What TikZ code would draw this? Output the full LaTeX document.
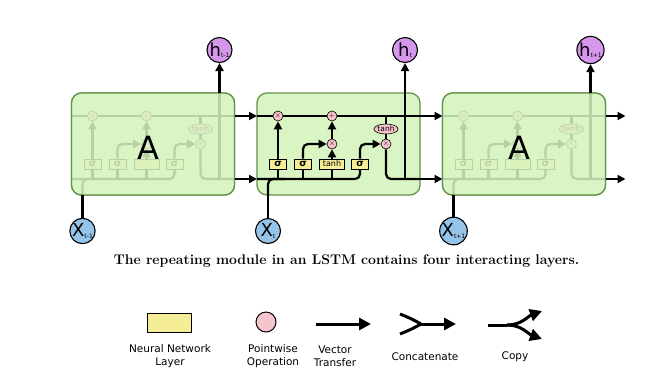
\documentclass[tikz,border=0pt]{standalone}
\usepackage{fontspec}
\usetikzlibrary{arrows.meta,shapes.geometric}
\newfontfamily\lbl{DejaVu Sans}

\definecolor{cellfill}{RGB}{217,245,196}
\definecolor{cellborder}{RGB}{100,145,75}
\definecolor{pwpink}{RGB}{246,196,204}
\definecolor{nnyellow}{RGB}{245,238,150}
\definecolor{hpurple}{RGB}{213,150,235}
\definecolor{xblue}{RGB}{150,195,232}

\tikzset{
  cellbox/.style={draw=cellborder, fill=cellfill, line width=1.3pt, rounded corners=10pt},
  flow/.style={line width=2.2pt, rounded corners=5pt},
  arr/.style={flow, -{Triangle[length=8pt,width=8pt]}},
  bigarr/.style={line width=3pt, -{Triangle[length=12pt,width=12pt]}},
  pw/.style={circle, draw=black, fill=pwpink, line width=0.6pt, inner sep=0pt,
    minimum size=10pt, font=\lbl\fontsize{7}{7}\selectfont},
  pwtanh/.style={ellipse, draw=black, fill=pwpink, line width=0.6pt, inner sep=0pt,
    minimum width=23pt, minimum height=10pt, font=\lbl\fontsize{7.5}{7.5}\selectfont},
  nn/.style={rectangle, draw=black, fill=nnyellow, line width=0.6pt, inner sep=0pt,
    minimum width=17pt, minimum height=10pt, font=\lbl\fontsize{8}{8}\selectfont},
  hnode/.style={circle, draw=black, fill=hpurple, line width=1.1pt, inner sep=0pt,
    minimum size=25pt},
  xnode/.style={circle, draw=black, fill=xblue, line width=1.1pt, inner sep=0pt,
    minimum size=25pt},
  keytext/.style={font=\lbl\fontsize{10.5}{13}\selectfont, align=center},
}

% labels inside the h and x circles
\newcommand{\circlabel}[2]{{\lbl\fontsize{18}{18}\selectfont #1}\raisebox{-1.5pt}{\lbl\fontsize{6}{6}\selectfont #2}}
\newcommand{\sig}{{\lbl\bfseries\fontsize{9.5}{9.5}\selectfont σ}}

% the inside of one LSTM cell, drawn at the position of the middle cell;
% #2 is the label of the tanh layer, #3 the sign of the input gate product
\newcommand{\lstmcell}[3]{%
  \coordinate (#1cin) at (257,116);
  \coordinate (#1cout) at (420,116);
  \coordinate (#1hin) at (257,179);
  \coordinate (#1hout) at (420,179);
  \coordinate (#1xin) at (268,195);
  \coordinate (#1xj) at (285,179);
  \coordinate (#1htop) at (405,93);
  \coordinate (#1hj) at (405,179);
  \coordinate (#1tap) at (386,116);
  \node[pw] (#1f) at (278,116) {$\times$};
  \node[pw] (#1p) at (332,116) {$+$};
  \node[pw] (#1i) at (332,144) {#3};
  \node[pw] (#1o) at (386,144) {$\times$};
  \node[pwtanh] (#1t) at (386,129) {tanh};
  \node[nn] (#1s1) at (278,164) {\sig};
  \node[nn] (#1s2) at (303,164) {\sig};
  \node[nn, minimum width=25pt] (#1g) at (332,164) {#2};
  \node[nn] (#1s3) at (360,164) {\sig};
  % cell state
  \draw[flow] (#1cin) -- (#1f) -- (#1p) -- (#1cout);
  % hidden state and input
  \draw[flow] (#1hin) -| (#1s3);
  \draw[flow] (#1xin) |- (#1xj);
  \draw[flow] (#1s1 |- #1hin) -- (#1s1);
  \draw[flow] (#1s2 |- #1hin) -- (#1s2);
  \draw[flow] (#1g |- #1hin) -- (#1g);
  % gates
  \draw[arr] (#1s1) -- (#1f);
  \draw[arr] (#1s2) |- (#1i);
  \draw[arr] (#1g) -- (#1i);
  \draw[arr] (#1i) -- (#1p);
  \draw[arr] (#1s3) |- (#1o);
  % output
  \draw[flow] (#1tap) -- (#1t);
  \draw[flow] (#1t) -- (#1o);
  \draw[flow] (#1o) |- (#1hout);
  \draw[flow] (#1hj) -- (#1htop);
}

\begin{document}
\begin{tikzpicture}[x=1pt, y=-1pt]
\useasboundingbox (0,0) rectangle (667,376);

% previous time step
\begin{scope}[xshift=-185.5]
  \draw[cellbox] (257,93) rectangle (420,195);
  \lstmcell{L}{}{}
  \fill[cellfill, fill opacity=0.85, rounded corners=10pt] (257,93) rectangle (420,195);
  \draw[cellborder, line width=1.3pt, rounded corners=10pt] (257,93) rectangle (420,195);
  \node[font=\lbl\fontsize{32}{32}\selectfont] (AL) at (333.5,148) {A};
\end{scope}

% current time step
\draw[cellbox] (257,93) rectangle (420,195);
\lstmcell{M}{tanh}{$\times$}

% next time step
\begin{scope}[xshift=185.5]
  \draw[cellbox] (257,93) rectangle (420,195);
  \lstmcell{R}{}{}
  \fill[cellfill, fill opacity=0.85, rounded corners=10pt] (257,93) rectangle (420,195);
  \draw[cellborder, line width=1.3pt, rounded corners=10pt] (257,93) rectangle (420,195);
  \node[font=\lbl\fontsize{32}{32}\selectfont] (AR) at (333.5,148) {A};
  \coordinate (Rcnext) at (440,116);
  \coordinate (Rhnext) at (440,179);
\end{scope}

% inputs and outputs
\node[hnode] (hL) at (219.5,50) {\circlabel{h}{t-1}};
\node[hnode] (hM) at (405,50) {\circlabel{h}{t}};
\node[hnode] (hR) at (590.5,50) {\circlabel{h}{t+1}};
\node[xnode] (xL) at (82.5,231) {\circlabel{X}{t-1}};
\node[xnode] (xM) at (268,231) {\circlabel{X}{t}};
\node[xnode] (xR) at (453.5,231) {\circlabel{X}{t+1}};

\draw[arr] (Lhtop) -- (hL);
\draw[arr] (Mhtop) -- (hM);
\draw[arr] (Rhtop) -- (hR);
\draw[flow] (xL) -- (Lxin);
\draw[flow] (xM) -- (Mxin);
\draw[flow] (xR) -- (Rxin);

% states passed between time steps
\draw[arr] (Lcout) -- (Mcin);
\draw[arr] (Lhout) -- (Mhin);
\draw[arr] (Mcout) -- (Rcin);
\draw[arr] (Mhout) -- (Rhin);
\draw[arr] (Rcout) -- (Rcnext);
\draw[arr] (Rhout) -- (Rhnext);

% caption
\node[anchor=base, font=\fontsize{14}{16}\selectfont\bfseries] (caption) at (346.5,264)
  {The repeating module in an LSTM contains four interacting layers.};

% legend
\node[rectangle, draw=black, fill=nnyellow, line width=1pt, minimum width=44pt, minimum height=19pt] (keynn) at (169,322.5) {};
\node[keytext] (keynnlbl) at (170,356.5) {Neural Network\\Layer};

\node[circle, draw=black, fill=pwpink, line width=1pt, minimum size=20pt, inner sep=0pt] (keypw) at (266,322) {};
\node[keytext] (keypwlbl) at (273,356.5) {Pointwise\\Operation};

\coordinate (vt1) at (316,324);
\coordinate (vt2) at (371,324);
\draw[bigarr] (vt1) -- (vt2);
\node[keytext] (keyvtlbl) at (335,356.5) {Vector\\Transfer};

\coordinate (ca) at (400,314);
\coordinate (cb) at (400,334);
\coordinate (cj) at (421,324);
\coordinate (ce) at (456,324);
\draw[line width=3pt] (ca) .. controls (412,319) .. (cj);
\draw[line width=3pt] (cb) .. controls (412,329) .. (cj);
\draw[bigarr] (cj) -- (ce);
\node[keytext] (keycalbl) at (425,356.7) {Concatenate};

\coordinate (cs) at (488,325);
\coordinate (cm) at (507,325);
\coordinate (ct1) at (542,311);
\coordinate (ct2) at (542,339);
\draw[line width=3pt] (cs) -- (cm);
\draw[bigarr] (cm) to[out=0, in=200] (ct1);
\draw[bigarr] (cm) to[out=0, in=160] (ct2);
\node[keytext] (keycplbl) at (515,356.7) {Copy};
\end{tikzpicture}
\end{document}
